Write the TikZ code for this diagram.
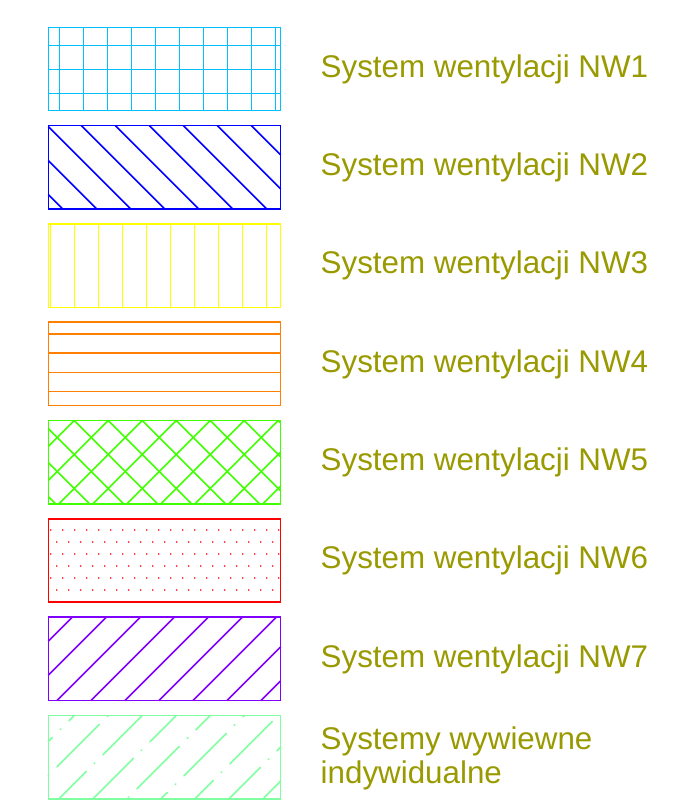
\documentclass[tikz,border=0pt]{standalone}
\usepackage{fontspec}
\setmainfont{Liberation Sans}
\definecolor{cNWa}{RGB}{0,192,255}
\definecolor{cNWb}{RGB}{0,0,255}
\definecolor{cNWc}{RGB}{255,255,0}
\definecolor{cNWd}{RGB}{255,128,0}
\definecolor{cNWe}{RGB}{64,255,0}
\definecolor{cNWf}{RGB}{255,0,0}
\definecolor{cNWg}{RGB}{128,0,255}
\definecolor{cNWh}{RGB}{128,255,160}
\definecolor{labelcol}{RGB}{153,153,0}
\tikzset{
  boxline/.style={line width=1.5pt},
  hl/.style={line width=1.6pt, draw=#1},
  hdot/.style={fill=#1},
  lbl/.style={anchor=base west, inner sep=0pt, text=labelcol, font=\fontsize{31.35}{34}\selectfont},
}
% box: left 48.3, width 232.4, height 83.4
\newcommand{\boxedge}[2]{\draw[boxline,draw=#2] (48.3,#1) rectangle ++(232.4,83.4);}
% "/" line u+v=c inside box with top #1
\newcommand{\fwdline}[3]{%
  \pgfmathsetmacro{\hua}{max(0,(#2)-83.4)}%
  \pgfmathsetmacro{\hub}{min(232.4,(#2))}%
  \draw[#3] ({48.3+\hua},{#1+(#2)-\hua}) -- ({48.3+\hub},{#1+(#2)-\hub});}
% "\" line u-v=c inside box with top #1
\newcommand{\bwdline}[3]{%
  \pgfmathsetmacro{\hua}{max(0,(#2))}%
  \pgfmathsetmacro{\hub}{min(232.4,(#2)+83.4)}%
  \draw[#3] ({48.3+\hua},{#1+\hua-(#2)}) -- ({48.3+\hub},{#1+\hub-(#2)});}
\begin{document}
\begin{tikzpicture}[x=1pt,y=-1pt]
\useasboundingbox (0,0) rectangle (682,809);
% NW1 grid
\foreach \k in {0,...,9} \draw[hl=cNWa] ({48.3+11+24*\k},27.3) -- ++(0,83.4);
\foreach \k in {0,1,2} \draw[hl=cNWa] (48.3,{27.3+18+24*\k}) -- ++(232.4,0);
\boxedge{27.3}{cNWa}
% NW2
\foreach \k in {-2,...,6} {\bwdline{125.6}{34*\k-1}{hl=cNWb}}
\boxedge{125.6}{cNWb}
% NW3
\foreach \k in {0,...,9} \draw[hl=cNWc] ({48.3+2.3+24*\k},223.9) -- ++(0,83.4);
\boxedge{223.9}{cNWc}
% NW4
\foreach \k in {0,...,3} \draw[hl=cNWd] (48.3,{322.2+11.7+19.2*\k}) -- ++(232.4,0);
\boxedge{322.2}{cNWd}
% NW5
\foreach \k in {0,...,8} {\fwdline{420.5}{26+34*\k}{hl=cNWe}}
\foreach \k in {-3,...,6} {\bwdline{420.5}{26+34*\k}{hl=cNWe}}
\boxedge{420.5}{cNWe}
% NW6
\foreach \j in {0,2,4,6}{
  \foreach \i in {0,...,19} \fill[hdot=cNWf] ({48.3+2.4+12*\i},{518.8+11.2+12*\j}) circle (0.9);
}
\foreach \j in {1,3,5}{
  \foreach \i in {0,...,18} \fill[hdot=cNWf] ({48.3+8.4+12*\i},{518.8+11.2+12*\j}) circle (0.9);
}
\boxedge{518.8}{cNWf}
% NW7
\foreach \k in {0,...,8} {\fwdline{617.1}{24+34*\k}{hl=cNWg}}
\boxedge{617.1}{cNWg}
% individual exhaust: dash-dot diagonals
\foreach \k in {0,...,8}{
  \pgfmathsetmacro{\hcc}{26+34*\k}
  \pgfmathsetmacro{\hsz}{ifthenelse(mod(\k,2)==0,15,-43)}
  \pgfmathsetmacro{\hue}{max(0,\hcc-83.4)}
  \pgfmathsetmacro{\hph}{mod(2*\hue-\hcc-\hsz+1180,118)/1.41421}
  \fwdline{715.4}{\hcc}{hl=cNWh, line cap=round, dash pattern=on 60pt off 11.25pt on 1pt off 11.25pt, dash phase=\hph pt}
}
\boxedge{715.4}{cNWh}
\node[lbl] (l1) at (320.5,77.3) {System wentylacji NW1};
\node[lbl] (l2) at (320.5,175.6) {System wentylacji NW2};
\node[lbl] (l3) at (320.5,273.9) {System wentylacji NW3};
\node[lbl] (l4) at (320.5,372.2) {System wentylacji NW4};
\node[lbl] (l5) at (320.5,470.5) {System wentylacji NW5};
\node[lbl] (l6) at (320.5,568.8) {System wentylacji NW6};
\node[lbl] (l7) at (320.5,667.1) {System wentylacji NW7};
\node[lbl] (l8a) at (320.5,749.0) {Systemy wywiewne};
\node[lbl] (l8b) at (320.5,783.0) {indywidualne};
\end{tikzpicture}
\end{document}
